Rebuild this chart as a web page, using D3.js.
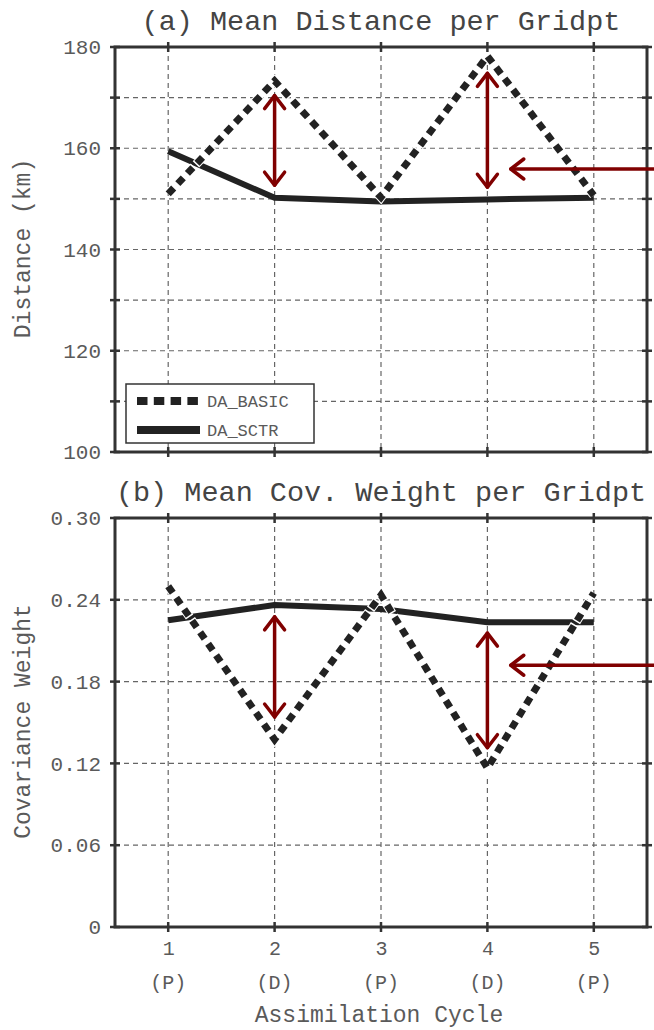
<!DOCTYPE html>
<html>
<head>
<meta charset="utf-8">
<script src="https://cdn.jsdelivr.net/npm/d3@7"></script>
<style>
  html, body { margin: 0; padding: 0; background: #fff; }
  svg { display: block; font-family: "Liberation Mono", "DejaVu Sans Mono", monospace; }
</style>
</head>
<body>
<svg id="chart" width="654" height="1030"></svg>
<script>
// Assimilation cycles and their type
const cycles = [1, 2, 3, 4, 5];
const cycleTypes = ["(P)", "(D)", "(P)", "(D)", "(P)"];

// (a) mean distance per gridpoint (km)
const distBasic = [151.0, 173.3, 150.3, 178.2, 150.7];
const distSctr  = [159.4, 150.2, 149.5, 149.9, 150.2];

// (b) mean covariance weight per gridpoint
const covBasic = [0.250, 0.1375, 0.2435, 0.1165, 0.2450];
const covSctr  = [0.2250, 0.2362, 0.2333, 0.2235, 0.2235];

// Tick values
const distTicks = [100, 110, 120, 130, 140, 150, 160, 170, 180];
const distLabels = [100, 120, 140, 160, 180];
const covTicks = [0, 0.06, 0.12, 0.18, 0.24, 0.30];

// Difference arrows (vertical) and pointer arrows (horizontal)
const distGapArrows = [{ x: 2, from: 152.7, to: 170.4 }, { x: 4, from: 152.3, to: 174.8 }];
const distPointer = { y: 155.9, from: 5.6, to: 4.22 };
const covGapArrows = [{ x: 2, from: 0.1540, to: 0.2275 }, { x: 4, from: 0.1315, to: 0.2156 }];
const covPointer = { y: 0.192, from: 5.6, to: 4.22 };

const svg = d3.select("#chart");
const left = 115, right = 647;
const x = d3.scaleLinear().domain([0.5, 5.5]).range([left, right]);

const textColor = "#5a5a5a";
const frameColor = "#333";
const lineColor = "#222";
const arrowColor = "#800000";

function panel(opts) {
  const { top, bottom, y, ticks, labelTicks, fmt, title, ylabel, basic, sctr, gaps, pointer, legend } = opts;
  const g = svg.append("g");

  // title
  g.append("text")
    .attr("x", (left + right) / 2).attr("y", top - 17)
    .attr("text-anchor", "middle")
    .attr("font-size", 28.5).attr("fill", "#444")
    .text(title);

  // grid
  g.append("g").selectAll("line").data(cycles).join("line")
    .attr("x1", d => x(d)).attr("x2", d => x(d))
    .attr("y1", top).attr("y2", bottom)
    .attr("stroke", "#666").attr("stroke-width", 1.2).attr("stroke-dasharray", "5,4");
  g.append("g").selectAll("line").data(ticks.slice(1, -1)).join("line")
    .attr("x1", left).attr("x2", right)
    .attr("y1", d => y(d)).attr("y2", d => y(d))
    .attr("stroke", "#666").attr("stroke-width", 1.2).attr("stroke-dasharray", "5,4");

  // series lines
  const line = d3.line().x((d, i) => x(cycles[i])).y(d => y(d));
  g.append("path").attr("d", line(sctr))
    .attr("fill", "none").attr("stroke", lineColor).attr("stroke-width", 6)
    .attr("stroke-linejoin", "round");
  g.append("path").attr("d", line(basic))
    .attr("fill", "none").attr("stroke", "#fff").attr("stroke-width", 9)
    .attr("stroke-dasharray", "11,3").attr("stroke-dashoffset", 1.5);
  g.append("path").attr("d", line(basic))
    .attr("fill", "none").attr("stroke", lineColor).attr("stroke-width", 7)
    .attr("stroke-dasharray", "8,6");

  // frame
  g.append("rect")
    .attr("x", left).attr("y", top).attr("width", right - left).attr("height", bottom - top)
    .attr("fill", "none").attr("stroke", frameColor).attr("stroke-width", 3);

  // ticks crossing the frame
  const tk = 5;
  const tg = g.append("g").attr("stroke", frameColor).attr("stroke-width", 2.5);
  cycles.forEach(c => {
    tg.append("line").attr("x1", x(c)).attr("x2", x(c)).attr("y1", top - tk).attr("y2", top + tk);
    tg.append("line").attr("x1", x(c)).attr("x2", x(c)).attr("y1", bottom - tk).attr("y2", bottom + tk);
  });
  ticks.forEach(t => {
    tg.append("line").attr("x1", left - tk).attr("x2", left + tk).attr("y1", y(t)).attr("y2", y(t));
    tg.append("line").attr("x1", right - tk).attr("x2", right + tk).attr("y1", y(t)).attr("y2", y(t));
  });

  // y tick labels via axis
  const ax = g.append("g").attr("transform", `translate(${left},0)`)
    .call(d3.axisLeft(y).tickValues(labelTicks).tickFormat(fmt).tickSize(0).tickPadding(14));
  ax.select(".domain").remove();
  ax.selectAll("text").attr("font-size", 21).attr("fill", textColor)
    .attr("font-family", "Liberation Mono, monospace");

  // y label
  g.append("text")
    .attr("transform", `translate(30,${(top + bottom) / 2 - 1}) rotate(-90)`)
    .attr("text-anchor", "middle")
    .attr("font-size", 23).attr("fill", textColor)
    .text(ylabel);

  // arrows
  const ag = g.append("g").attr("stroke", arrowColor).attr("stroke-width", 3.5)
    .attr("fill", "none").attr("stroke-linecap", "round").attr("stroke-linejoin", "round");
  function head(tx, ty, dx, dy) {
    const L = 13, W = 10;
    const px = -dy, py = dx;
    return `M${tx - dx * L + px * W},${ty - dy * L + py * W}L${tx},${ty}L${tx - dx * L - px * W},${ty - dy * L - py * W}`;
  }
  gaps.forEach(a => {
    const xx = x(a.x), y0 = y(a.from), y1 = y(a.to);
    ag.append("line").attr("x1", xx).attr("x2", xx).attr("y1", y0).attr("y2", y1);
    ag.append("path").attr("d", head(xx, y0, 0, 1));
    ag.append("path").attr("d", head(xx, y1, 0, -1));
  });
  const py = y(pointer.y), px0 = x(pointer.from), px1 = x(pointer.to);
  ag.append("line").attr("x1", px0).attr("x2", px1).attr("y1", py).attr("y2", py);
  ag.append("path").attr("d", head(px1, py, -1, 0));

  if (legend) {
    const lg = g.append("g");
    lg.append("rect").attr("x", 126).attr("y", 384).attr("width", 188).attr("height", 59)
      .attr("fill", "#fff").attr("stroke", frameColor).attr("stroke-width", 1.5);
    lg.append("line").attr("x1", 137).attr("x2", 200).attr("y1", 401).attr("y2", 401)
      .attr("stroke", lineColor).attr("stroke-width", 8).attr("stroke-dasharray", "10.5,6.3");
    lg.append("line").attr("x1", 137).attr("x2", 200).attr("y1", 430).attr("y2", 430)
      .attr("stroke", lineColor).attr("stroke-width", 8);
    lg.append("text").attr("x", 207).attr("y", 407).attr("font-size", 17).attr("fill", textColor).text("DA_BASIC");
    lg.append("text").attr("x", 207).attr("y", 436).attr("font-size", 17).attr("fill", textColor).text("DA_SCTR");
  }
}

// (a)
panel({
  top: 47, bottom: 452,
  y: d3.scaleLinear().domain([100, 180]).range([452, 47]),
  ticks: distTicks, labelTicks: distLabels, fmt: d3.format("d"),
  title: "(a) Mean Distance per Gridpt", ylabel: "Distance (km)",
  basic: distBasic, sctr: distSctr, gaps: distGapArrows, pointer: distPointer, legend: true
});

// (b)
panel({
  top: 518, bottom: 927,
  y: d3.scaleLinear().domain([0, 0.30]).range([927, 518]),
  ticks: covTicks, labelTicks: covTicks, fmt: d => d === 0 ? "0" : d3.format(".2f")(d),
  title: "(b) Mean Cov. Weight per Gridpt", ylabel: "Covariance Weight",
  basic: covBasic, sctr: covSctr, gaps: covGapArrows, pointer: covPointer, legend: false
});

// x axis labels (bottom panel)
const xl = svg.append("g").attr("transform", "translate(0,927)")
  .call(d3.axisBottom(x).tickValues(cycles).tickFormat(d3.format("d")).tickSize(0).tickPadding(14));
xl.select(".domain").remove();
xl.selectAll("text").attr("font-size", 20).attr("fill", textColor)
  .attr("font-family", "Liberation Mono, monospace");
svg.append("g").selectAll("text").data(cycleTypes).join("text")
  .attr("x", (d, i) => x(cycles[i])).attr("y", 989)
  .attr("text-anchor", "middle").attr("font-size", 20).attr("fill", textColor)
  .text(d => d);
svg.append("text")
  .attr("x", (left + right) / 2 - 2).attr("y", 1022)
  .attr("text-anchor", "middle").attr("font-size", 23).attr("fill", textColor)
  .text("Assimilation Cycle");
</script>
</body>
</html>
